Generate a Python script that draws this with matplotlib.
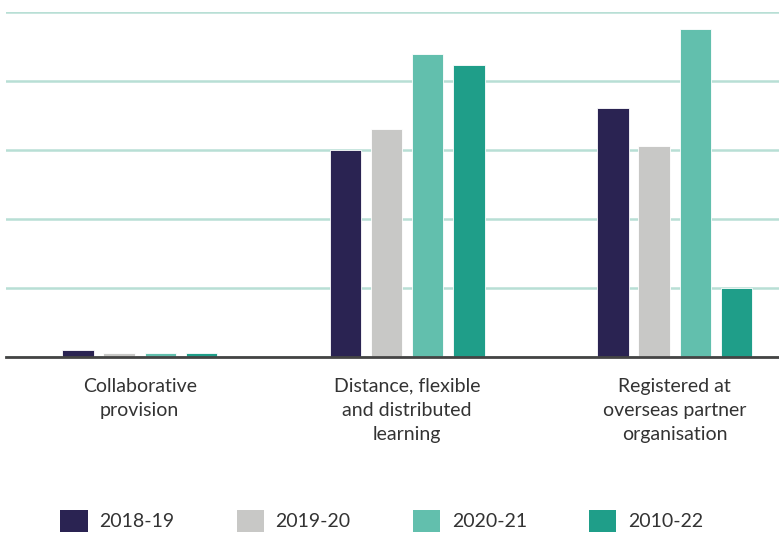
import numpy as np
import matplotlib.pyplot as plt
from matplotlib.patches import Patch

categories = ['Collaborative\nprovision',
              'Distance, flexible\nand distributed\nlearning',
              'Registered at\noverseas partner\norganisation']
years = ['2018-19', '2019-20', '2020-21', '2010-22']
v_1819 = [0.10, 3.00, 3.61]
v_1920 = [0.06, 3.31, 3.06]
v_2021 = [0.06, 4.39, 4.75]
v_2122 = [0.06, 4.23, 1.00]
colors = ['#2a2352', '#c8c8c6', '#62bfad', '#1f9e89']

plt.rcParams['font.family'] = ['Lato', 'DejaVu Sans']

fig = plt.figure(figsize=(7.79, 5.33), dpi=100)
ax = fig.add_axes([6 / 779, 176 / 533, 773 / 779, 345 / 533])

x = np.arange(len(categories))
pitch = 0.154
width = 0.117
for i, (vals, c) in enumerate(zip([v_1819, v_1920, v_2021, v_2122], colors)):
    ax.bar(x + (i - 1.5) * pitch, vals, width, color=c, edgecolor='white',
           linewidth=0.6, zorder=3)

ax.set_xlim(-0.5, 2.39)
ax.set_ylim(0, 5)
ax.set_yticks(np.arange(0, 6))
ax.yaxis.grid(True, color='#b8dfd5', linewidth=1.8, zorder=0)
ax.tick_params(axis='y', left=False, labelleft=False)
ax.tick_params(axis='x', length=0, pad=15)
ax.set_xticks(x)
ax.set_xticklabels(categories, fontsize=14, color='#333333', linespacing=1.5)
for s in ['top', 'right', 'left']:
    ax.spines[s].set_visible(False)
ax.spines['bottom'].set_color('#444444')
ax.spines['bottom'].set_linewidth(2)
ax.spines['bottom'].set_zorder(4)

handles = [Patch(facecolor=c, edgecolor='none') for c in colors]
fig.legend(handles, years, loc='center', bbox_to_anchor=(0.49, 0.023), ncol=4,
           frameon=False, handlelength=1.4, handleheight=1.4,
           columnspacing=3.2, handletextpad=0.6, labelcolor='#333333',
           prop={'size': 14})

fig.savefig('out.png', dpi=100)
